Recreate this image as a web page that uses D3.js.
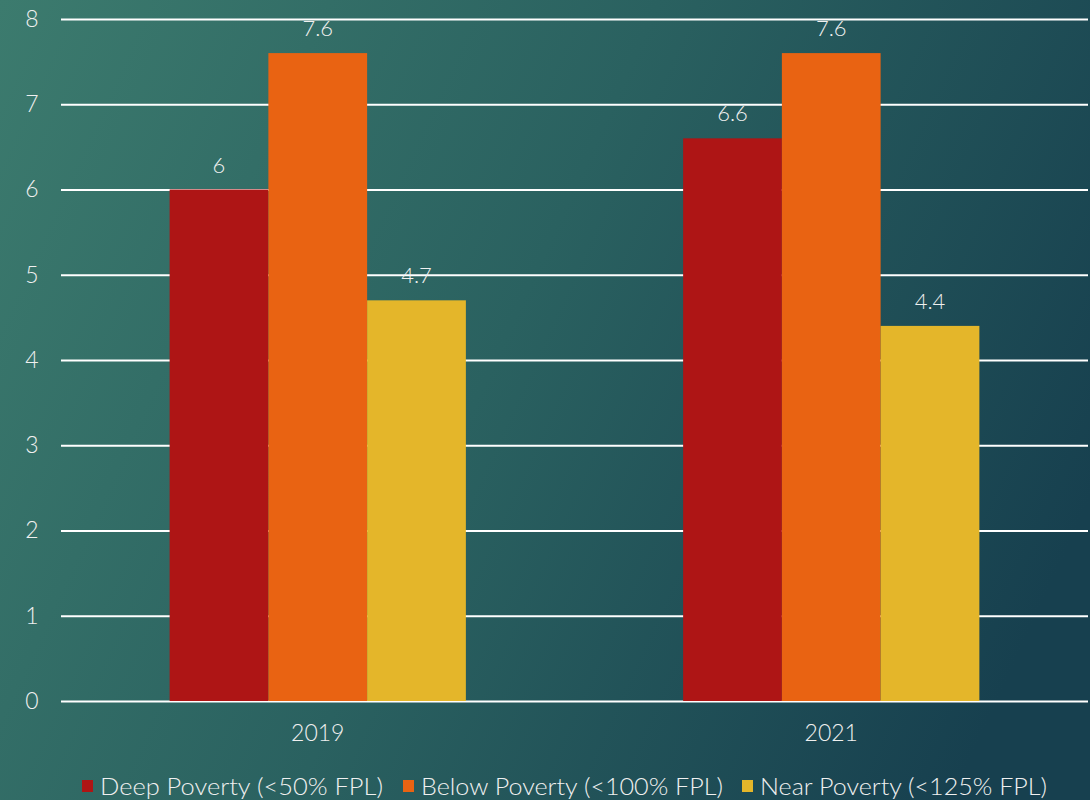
<!DOCTYPE html>
<html>
<head>
<meta charset="utf-8">
<script src="https://cdn.jsdelivr.net/npm/d3@7"></script>
<style>
  html, body { margin: 0; padding: 0; }
  body { width: 1090px; height: 800px; overflow: hidden; }
  text { font-family: "Century Gothic", "Lato", "DejaVu Sans", sans-serif; font-weight: 300; fill: #f0f0f0; }
</style>
</head>
<body>
<svg id="chart" width="1090" height="800"></svg>
<script>
const years = ["2019", "2021"];
const seriesNames = ["Deep Poverty (<50% FPL)", "Below Poverty (<100% FPL)", "Near Poverty (<125% FPL)"];
const deepPoverty = [6, 6.6];
const belowPoverty = [7.6, 7.6];
const nearPoverty = [4.7, 4.4];
const yTicks = [0, 1, 2, 3, 4, 5, 6, 7, 8];
const colors = ["#ae1515", "#e96312", "#e4b62a"];

const values = [deepPoverty, belowPoverty, nearPoverty];
const svg = d3.select("#chart");

// background gradient
const grad = svg.append("defs").append("linearGradient")
  .attr("id", "bg").attr("gradientUnits", "userSpaceOnUse")
  .attr("x1", 0).attr("y1", 0).attr("x2", 1090).attr("y2", 500);
grad.append("stop").attr("offset", "0%").attr("stop-color", "#3c7b6e");
grad.append("stop").attr("offset", "50%").attr("stop-color", "#2a6160");
grad.append("stop").attr("offset", "100%").attr("stop-color", "#17404f");
svg.append("rect").attr("width", 1090).attr("height", 800).attr("fill", "url(#bg)");

const M = { left: 61, right: 1088, top: 19, bottom: 701 };
const x = d3.scaleBand().domain(years).range([M.left, M.right]).paddingInner(0).paddingOuter(0);
const xs = d3.scaleBand().domain(d3.range(seriesNames.length)).range([0, x.bandwidth()]).paddingOuter(1.1);
const y = d3.scaleLinear().domain([0, 8]).range([M.bottom, M.top]);

// gridlines
const yAxis = svg.append("g").attr("transform", `translate(${M.left},0)`)
  .call(d3.axisLeft(y).tickValues(yTicks).tickSize(-(M.right - M.left)).tickPadding(29).tickFormat(d3.format("d")));
yAxis.select(".domain").remove();
yAxis.selectAll(".tick line").attr("stroke", "#ffffff").attr("stroke-width", 2.2);
yAxis.selectAll(".tick text").attr("font-size", 23).attr("text-anchor", "middle");

// bars
const groups = svg.append("g").selectAll("g").data(years).join("g")
  .attr("transform", d => `translate(${x(d)},0)`);
groups.selectAll("rect")
  .data((d, i) => values.map((v, s) => ({ s, v: v[i] })))
  .join("rect")
  .attr("x", d => xs(d.s))
  .attr("width", xs.bandwidth())
  .attr("y", d => y(d.v))
  .attr("height", d => y(0) - y(d.v))
  .attr("fill", d => colors[d.s]);
groups.selectAll("text.val")
  .data((d, i) => values.map((v, s) => ({ s, v: v[i] })))
  .join("text")
  .attr("class", "val")
  .attr("x", d => xs(d.s) + xs.bandwidth() / 2)
  .attr("y", d => y(d.v) - 17)
  .attr("text-anchor", "middle")
  .attr("font-size", 22)
  .text(d => d.v);

// x axis labels
const xAxis = svg.append("g").attr("transform", `translate(0,${M.bottom})`)
  .call(d3.axisBottom(x).tickSize(0).tickPadding(24));
xAxis.select(".domain").remove();
xAxis.selectAll(".tick text").attr("font-size", 23);

// legend
const legendX = [82, 403, 742];
const legendW = [283, 302, 287];
const legend = svg.append("g").attr("transform", "translate(0,786)");
const items = legend.selectAll("g").data(seriesNames).join("g")
  .attr("transform", (d, i) => `translate(${legendX[i]},0)`);
items.append("rect").attr("x", 0).attr("y", -6).attr("width", 11).attr("height", 12)
  .attr("fill", (d, i) => colors[i]);
items.append("text").attr("x", 18).attr("y", 9).attr("font-size", 23)
  .attr("textLength", (d, i) => legendW[i]).attr("lengthAdjust", "spacingAndGlyphs")
  .text(d => d);
</script>
</body>
</html>
